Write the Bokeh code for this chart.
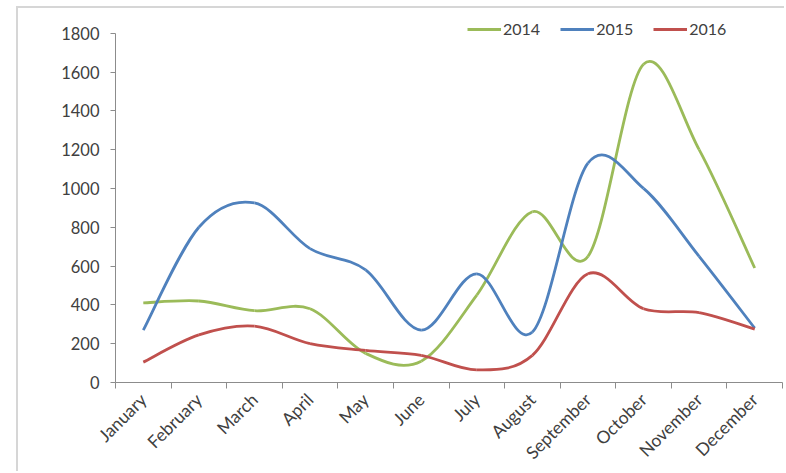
import numpy as np
from math import pi
from bokeh.plotting import figure
from bokeh.models import Range1d, FixedTicker, Legend, LegendItem, ColumnDataSource
from bokeh.embed import file_html
from bokeh.resources import INLINE

months = ["January", "February", "March", "April", "May", "June", "July",
          "August", "September", "October", "November", "December"]
s2014 = [410, 420, 370, 380, 150, 110, 450, 880, 650, 1640, 1200, 590]
s2015 = [270, 800, 925, 690, 580, 270, 560, 260, 1130, 1000, 650, 280]
s2016 = [105, 245, 290, 200, 165, 140, 65, 140, 560, 380, 360, 275]
series_names = ["2014", "2015", "2016"]
colors = ["#9BBB59", "#4F81BD", "#C0504D"]
y_ticks = list(range(0, 1801, 200))

FONT = "Lato"
TXT = "#404040"
AX = "#8c8c8c"


def smooth_source(vals):
    # Excel-like smoothed line: cubic Bezier segments (Catmull-Rom control points)
    x = np.arange(len(vals)) + 0.5
    y = np.array(vals, dtype=float)
    px = np.concatenate([[x[0]], x, [x[-1]]])
    py = np.concatenate([[y[0]], y, [y[-1]]])
    d = {"x0": [], "y0": [], "x1": [], "y1": [], "cx0": [], "cy0": [], "cx1": [], "cy1": []}
    for i in range(len(vals) - 1):
        p0x, p0y = px[i], py[i]
        p1x, p1y = px[i + 1], py[i + 1]
        p2x, p2y = px[i + 2], py[i + 2]
        p3x, p3y = px[i + 3], py[i + 3]
        d["x0"].append(p1x); d["y0"].append(p1y)
        d["x1"].append(p2x); d["y1"].append(p2y)
        d["cx0"].append(p1x + (p2x - p0x) / 6); d["cy0"].append(p1y + (p2y - p0y) / 6)
        d["cx1"].append(p2x - (p3x - p1x) / 6); d["cy1"].append(p2y - (p3y - p1y) / 6)
    return ColumnDataSource(d)


# frame extends a little above 1800 so the legend (drawn above the 1800 line) is not clipped
p = figure(width=768, height=465, x_range=Range1d(0, 12), y_range=Range1d(0, 1896.3),
           output_backend="svg", toolbar_location=None,
           min_border_left=97, min_border_right=4, min_border_top=6, min_border_bottom=91,
           margin=(6, 0, 0, 16))
p.styles = {"border-top": "2px solid #d6d6d6", "border-left": "2px solid #d6d6d6"}
p.outline_line_color = None
p.xgrid.visible = False
p.ygrid.visible = False
p.background_fill_color = "white"
p.border_fill_color = "white"

items = []
for name, vals, col in zip(series_names, [s2014, s2015, s2016], colors):
    r = p.bezier(x0="x0", y0="y0", x1="x1", y1="y1", cx0="cx0", cy0="cy0",
                 cx1="cx1", cy1="cy1", source=smooth_source(vals),
                 line_color=col, line_width=2.8)
    items.append(LegendItem(label=name, renderers=[r]))

legend = Legend(items=items, orientation="horizontal", location=(352, 344),
                border_line_color=None, background_fill_alpha=0,
                padding=0, margin=0, spacing=20, glyph_width=34, glyph_height=18,
                label_standoff=2, label_text_font=FONT, label_text_font_size="16px",
                label_text_color=TXT, label_height=18)
p.add_layout(legend)

yax = p.yaxis[0]
yax.ticker = FixedTicker(ticks=y_ticks)
yax.bounds = (0, 1800)
yax.axis_line_color = AX
yax.major_tick_line_color = AX
yax.major_tick_out = 5
yax.major_tick_in = 0
yax.minor_tick_line_color = None
yax.major_label_standoff = 11
yax.major_label_text_font = FONT
yax.major_label_text_font_size = "16.5px"
yax.major_label_text_color = TXT

xax = p.xaxis[0]
xax.ticker = FixedTicker(ticks=[i + 0.5 for i in range(12)], minor_ticks=list(range(13)))
xax.major_label_overrides = {i + 0.5: m for i, m in enumerate(months)}
xax.axis_line_color = AX
xax.major_tick_line_color = None
xax.minor_tick_line_color = AX
xax.minor_tick_out = 6
xax.minor_tick_in = 0
xax.major_label_orientation = pi / 4
xax.major_label_standoff = 8
xax.major_label_text_font = FONT
xax.major_label_text_font_size = "17.5px"
xax.major_label_text_color = TXT

open("out.html", "w").write(file_html(p, INLINE))
